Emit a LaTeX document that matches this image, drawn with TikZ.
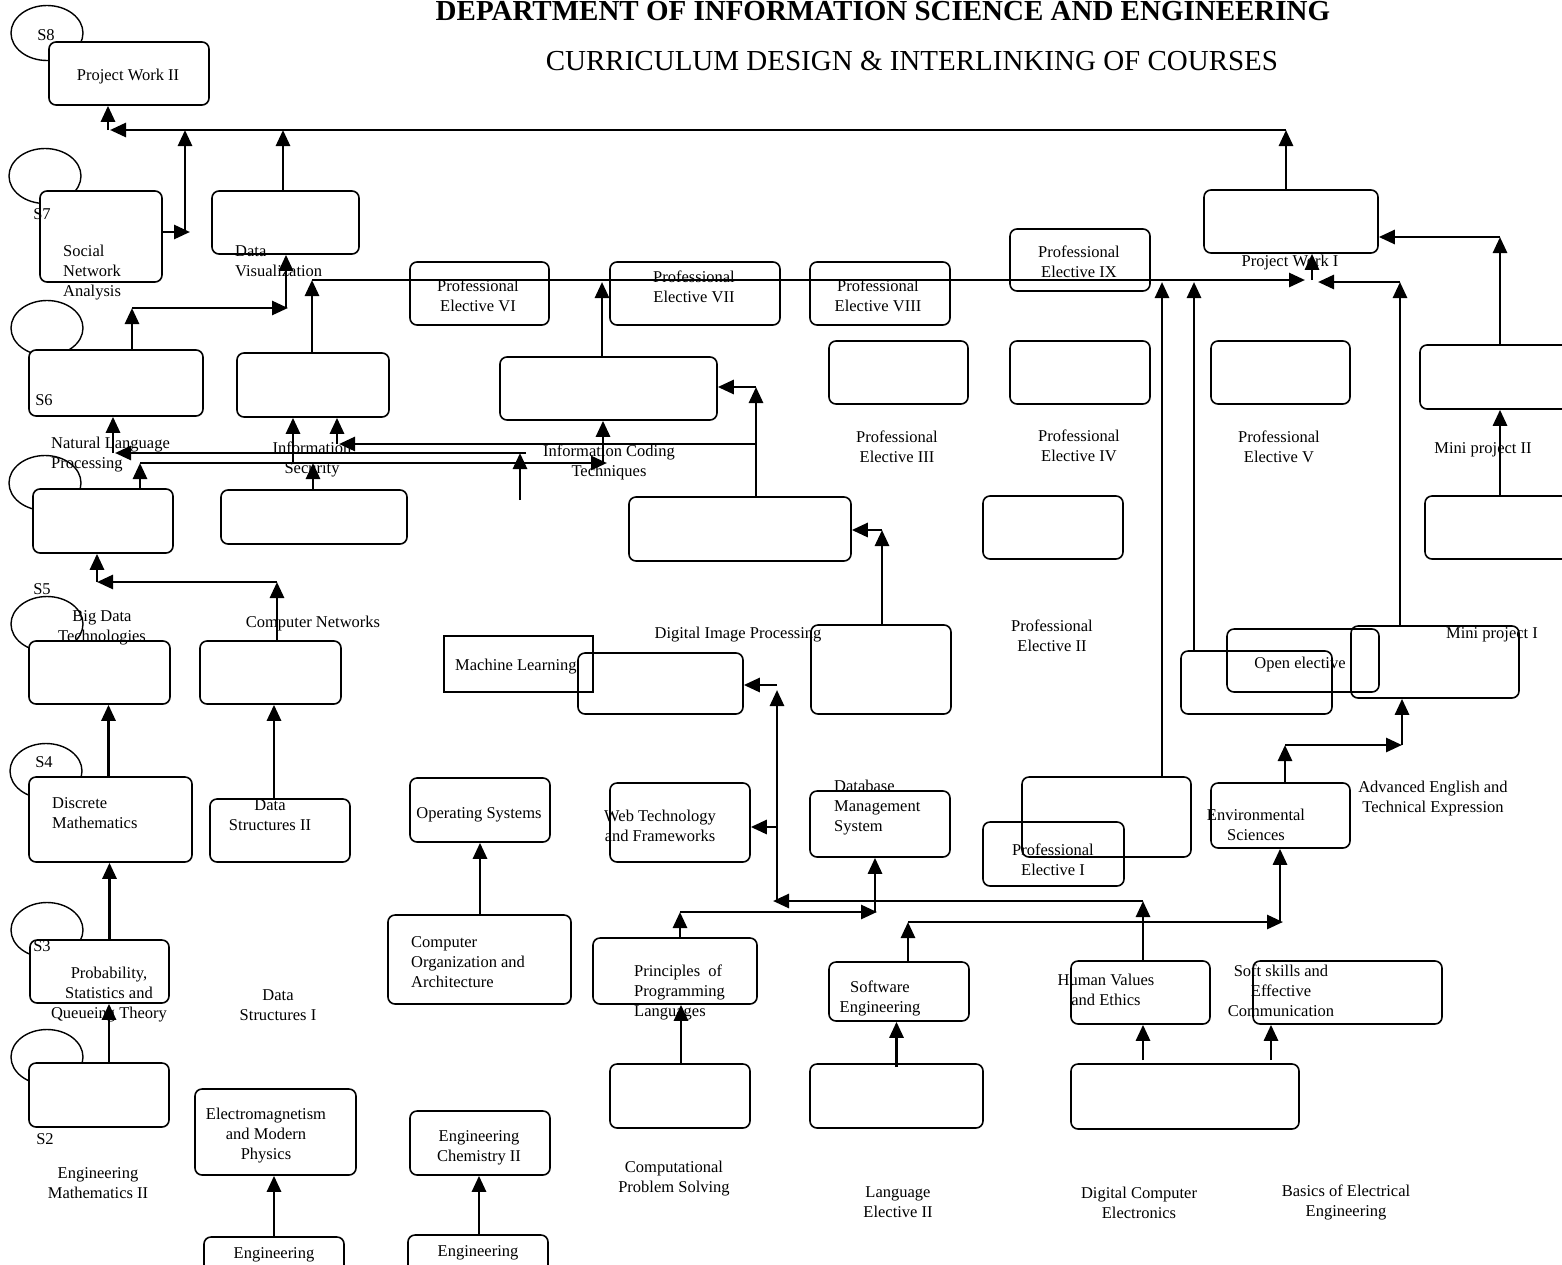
\documentclass[tikz,border=0pt]{standalone}
\usepackage{fontspec}
\setmainfont{Liberation Serif}
\usetikzlibrary{positioning, fit, shapes, arrows.meta}
\tikzstyle{course}=[rectangle, rounded corners=7pt, draw, line width=1.6pt, fill=white, inner sep=0pt]
\tikzstyle{plain}=[rectangle, draw, line width=1.8pt, inner sep=0pt]
\tikzstyle{sem}=[ellipse, draw, line width=1.4pt, inner sep=0pt, minimum width=72pt, minimum height=55pt]
\tikzstyle{txt}=[inner sep=0pt, align=center, yshift=-3pt]
\tikzstyle{ltxt}=[inner sep=0pt, align=left, anchor=west, yshift=-3pt]
\tikzstyle{link}=[line width=2.8pt, -{Triangle[length=16pt, width=14pt]}]

\begin{document}
\begin{tikzpicture}[x=1pt, y=-1pt, font=\fontsize{16.5}{20}\selectfont]
                \useasboundingbox (0,0) rectangle (1562,1264);
                \clip (0,0) rectangle (1562,1264);

                % Titres
                \node[anchor=base, font=\fontsize{29}{32}\selectfont\bfseries] (dept) at (883,20) {DEPARTMENT OF INFORMATION SCIENCE AND ENGINEERING};
                \node[anchor=base, font=\fontsize{29}{32}\selectfont] (title) at (912,70) {CURRICULUM DESIGN \& INTERLINKING OF COURSES};

                % Semestres
                \node[sem] (sem8) at (47,33) {};
                \node[sem] (sem7) at (45,176) {};
                \node[sem] (sem6) at (47,328) {};
                \node[sem] (sem5) at (45,483) {};
                \node[sem] (sem4a) at (47,624) {};
                \node[sem] (sem4) at (46,771) {};
                \node[sem] (sem3) at (47,930) {};
                \node[sem] (sem2) at (47,1057) {};

                % Cours
                \node[course, fit={(49,42) (209,105)}] (pw2) {};
                \node[course, fit={(40,191) (162,282)}] (sna) {};
                \node[course, fit={(212,191) (359,254)}] (dv) {};
                \node[course, fit={(410,262) (549,325)}] (pe6) {};
                \node[course, fit={(610,262) (780,325)}] (pe7) {};
                \node[course, fit={(810,262) (950,325)}] (pe8) {};
                \node[course, fit={(1010,229) (1150,291)}] (pe9) {};
                \node[course, fit={(1204,190) (1378,253)}] (pw1) {};
                \node[course, fit={(29,350) (203,416)}] (nlp) {};
                \node[course, fit={(237,353) (389,417)}] (is) {};
                \node[course, fit={(500,357) (717,420)}] (ict) {};
                \node[course, fit={(829,341) (968,404)}] (pe3) {};
                \node[course, fit={(1010,341) (1150,404)}] (pe4) {};
                \node[course, fit={(1211,341) (1350,404)}] (pe5) {};
                \node[course, fit={(1420,345) (1580,409)}] (mp2) {};
                \node[course, fit={(33,489) (173,553)}] (bda) {};
                \node[course, fit={(221,490) (407,544)}] (isp) {};
                \node[course, fit={(629,497) (851,561)}] (dip) {};
                \node[course, fit={(983,496) (1123,559)}] (pe2) {};
                \node[course, fit={(1425,496) (1580,559)}] (mp2p) {};
                \node[course, fit={(29,641) (170,704)}] (bd) {};
                \node[course, fit={(200,641) (341,704)}] (cn) {};
                \node[course, fit={(578,653) (743,714)}] (dipp) {};
                \node[plain, fit={(444,636) (593,692)}] (ml) {};
                \node[course, fit={(811,625) (951,714)}] (dipq) {};
                \node[course, fit={(1181,651) (1332,714)}] (opa) {};
                \node[course, fill=none, fit={(1227,629) (1379,692)}] (opb) {};
                \node[course, fill=none, fit={(1351,626) (1519,698)}] (mp1) {};
                \node[course, fit={(29,777) (192,862)}] (dm) {};
                \node[course, fit={(210,799) (350,862)}] (ds2) {};
                \node[course, fit={(410,778) (550,842)}] (os) {};
                \node[course, fit={(610,783) (750,862)}] (wt) {};
                \node[course, fit={(810,791) (950,857)}] (dbms) {};
                \node[course, fit={(1022,777) (1191,857)}] (pe1a) {};
                \node[course, fill=none, fit={(983,822) (1124,886)}] (pe1) {};
                \node[course, fit={(1211,783) (1350,848)}] (env) {};
                \node[course, fit={(30,940) (169,1003)}] (psq) {};
                \node[course, fit={(388,915) (571,1004)}] (coa) {};
                \node[course, fit={(593,938) (757,1004)}] (ppl) {};
                \node[course, fit={(829,962) (969,1021)}] (se) {};
                \node[course, fit={(1071,961) (1210,1024)}] (hve) {};
                \node[course, fit={(1253,961) (1442,1024)}] (ss) {};
                \node[course, fit={(29,1063) (169,1127)}] (em2) {};
                \node[course, fit={(195,1089) (356,1175)}] (emp) {};
                \node[course, fit={(410,1111) (550,1175)}] (ec2) {};
                \node[course, fit={(610,1064) (750,1128)}] (cps) {};
                \node[course, fit={(810,1064) (983,1128)}] (le2) {};
                \node[course, fit={(1071,1064) (1299,1129)}] (dce) {};
                \node[course, fit={(204,1237) (344,1300)}] (eng1) {};
                \node[course, fit={(408,1235) (548,1298)}] (eng2) {};

                % Textes
                \node[txt] (s8t) at (46,32) {S8};
                \node[txt] (s7t) at (42,211) {S7};
                \node[txt] (s6t) at (44,397) {S6};
                \node[txt] (s5t) at (42,586) {S5};
                \node[txt] (s4t) at (44,759) {S4};
                \node[txt] (s3t) at (42,943) {S3};
                \node[txt] (s2t) at (45,1136) {S2};
                \node[txt] (pw2t) at (128,74) {Project Work II};
                \node[ltxt] (snat) at (63,270) {Social\\Network\\Analysis};
                \node[ltxt] (dvt) at (235,258) {Data\\Visualization};
                \node[txt] (pe6t) at (478,293) {Professional\\Elective VI};
                \node[txt] (pe7t) at (694,284) {Professional\\Elective VII};
                \node[txt] (pe8t) at (878,293) {Professional\\Elective VIII};
                \node[txt] (pe9t) at (1079,259) {Professional\\Elective IX};
                \node[txt] (pw1t) at (1290,260) {Project Work I};
                \node[ltxt] (nlpt) at (51,452) {Natural Language\\Processing};
                \node[txt] (ist) at (312,456) {Information\\Security};
                \node[txt] (ictt) at (609,459) {Information Coding\\Techniques};
                \node[txt] (pe3t) at (897,444) {Professional\\Elective III};
                \node[txt] (pe4t) at (1079,443) {Professional\\Elective IV};
                \node[txt] (pe5t) at (1279,444) {Professional\\Elective V};
                \node[txt] (mp2t) at (1483,447) {Mini project II};
                \node[txt] (bdt) at (102,625) {Big Data\\Technologies};
                \node[txt] (cnt) at (313,621) {Computer Networks};
                \node[txt] (dipt) at (738,632) {Digital Image Processing};
                \node[txt] (pe2t) at (1052,633) {Professional\\Elective II};
                \node[txt] (opt) at (1300,662) {Open elective};
                \node[txt] (mp1t) at (1492,632) {Mini project I};
                \node[ltxt] (mlt) at (455,664) {Machine Learning};
                \node[ltxt] (dmt) at (52,810) {Discrete\\Mathematics};
                \node[txt] (ds2t) at (270,812) {Data\\Structures II};
                \node[txt] (ost) at (479,812) {Operating Systems};
                \node[txt] (wtt) at (660,823) {Web Technology\\and Frameworks};
                \node[ltxt] (dbmst) at (834,805) {Database\\Management\\System};
                \node[txt] (aetet) at (1433,796) {Advanced English and\\Technical Expression};
                \node[txt] (envt) at (1256,822) {Environmental\\Sciences};
                \node[txt] (pe1t) at (1053,857) {Professional\\Elective I};
                \node[txt] (psqt) at (109,992) {Probability,\\Statistics and\\Queueing Theory};
                \node[txt] (ds1t) at (278,1002) {Data\\Structures I};
                \node[ltxt] (coat) at (411,959) {Computer\\Organization and\\Architecture};
                \node[ltxt] (pplt) at (634,989) {Principles~~of\\Programming\\Languages};
                \node[txt] (set) at (880,995) {Software\\Engineering};
                \node[txt] (hvet) at (1106,987) {Human Values\\and Ethics};
                \node[txt] (sst) at (1281,988) {Soft skills and\\Effective\\Communication};
                \node[txt] (em2t) at (98,1180) {Engineering\\Mathematics II};
                \node[txt] (empt) at (266,1133) {Electromagnetism\\and Modern\\Physics};
                \node[txt] (ec2t) at (479,1145) {Engineering\\Chemistry II};
                \node[txt] (cpst) at (674,1176) {Computational\\Problem Solving};
                \node[txt] (le2t) at (898,1199) {Language\\Elective II};
                \node[txt] (dcet) at (1139,1200) {Digital Computer\\Electronics};
                \node[txt] (beet) at (1346,1199) {Basics of Electrical\\Engineering};
                \node[txt] (eng1t) at (274,1252) {Engineering};
                \node[txt] (eng2t) at (478,1250) {Engineering};

                % Liens vers S8
                \coordinate (topR) at (1286,130);
                \coordinate (topL) at (108,130);
                \draw[link] (pw1.north -| topR) -- (topR);
                \draw[link] (topR) -- ([xshift=2pt]topL);
                \draw[link] (topL) -- (topL |- pw2.south);
                \coordinate (snaR) at (190,232);
                \coordinate (snaUp) at (185,232);
                \draw[link] (sna.east |- snaR) -- (snaR);
                \draw[link] (snaUp) -- (snaUp |- topL);
                \coordinate (dvUp) at (283,130);
                \draw[link] (dv.north -| dvUp) -- (dvUp);

                % Liens vers S7
                \coordinate (nlpUp) at (132,308);
                \coordinate (dvIn) at (286,308);
                \draw[link] (nlp.north -| nlpUp) -- (nlpUp);
                \draw[link] (nlpUp) -- ([xshift=2pt]dvIn);
                \draw[link] (dvIn) -- (dvIn |- dv.south);
                \coordinate (busA) at (312,280);
                \coordinate (busB) at (1305,280);
                \draw[link] (is.north -| busA) -- (busA);
                \draw[link] (busA) -- (busB);
                \coordinate (mpUp) at (1400,282);
                \coordinate (busC) at (1318,282);
                \draw[link] (mp1.north -| mpUp) -- (mpUp);
                \draw[link] (mpUp) -- (busC);
                \coordinate (pw1In) at (1312,280);
                \draw[link] (pw1In) -- (pw1In |- pw1.south);
                \coordinate (pe1Up) at (1162,282);
                \draw[link] (pe1a.north -| pe1Up) -- (pe1Up);
                \coordinate (opUp) at (1194,282);
                \draw[link] (opa.north -| opUp) -- (opUp);
                \coordinate (ictUp) at (602,282);
                \draw[link] (ict.north -| ictUp) -- (ictUp);
                \coordinate (mp2Up) at (1500,237);
                \draw[link] (mp2.north -| mp2Up) -- (mp2Up);
                \draw[link] (mp2Up) -- (mp2Up -| pw1.east);
                \draw[link] (mp2p.north -| mp2Up) -- (mp2Up |- mp2.south);

                % Liens vers S6
                \coordinate (dipUp) at (756,387);
                \draw[link] (dip.north -| dipUp) -- (dipUp);
                \draw[link] (dipUp) -- (dipUp -| ict.east);
                \coordinate (isR) at (756,444);
                \coordinate (isL) at (337,444);
                \draw[link] (isR) -- ([xshift=2pt]isL);
                \draw[link] (isL) -- (isL |- is.south);
                \coordinate (freeA) at (520,500);
                \coordinate (nlpR) at (520,453);
                \coordinate (nlpL) at (113,453);
                \draw[link] (freeA) -- (nlpR);
                \draw[link] ([xshift=6pt]nlpR) -- ([xshift=2pt]nlpL);
                \draw[link] (nlpL) -- (nlpL |- nlp.south);
                \coordinate (bdaUp) at (140,463);
                \coordinate (ictR) at (607,463);
                \draw[link] (bda.north -| bdaUp) -- (bdaUp);
                \draw[link] (bdaUp) -- (ictR);
                \draw[link] ([xshift=-4pt]ictR) -- ([xshift=-4pt]ictR |- ict.south);
                \coordinate (ispUp) at (313,463);
                \coordinate (isIn) at (293,463);
                \draw[link] (isp.north -| ispUp) -- (ispUp);
                \draw[link] (isIn) -- (isIn |- is.south);

                % Liens vers S5
                \coordinate (cnUp) at (277,582);
                \coordinate (bdaIn) at (97,582);
                \draw[link] (cn.north -| cnUp) -- (cnUp);
                \draw[link] (cnUp) -- (bdaIn);
                \draw[link] (bdaIn) -- (bdaIn |- bda.south);
                \coordinate (dipqUp) at (882,530);
                \draw[link] (dipq.north -| dipqUp) -- (dipqUp);
                \draw[link] (dipqUp) -- (dipqUp -| dip.east);
                \coordinate (envUp) at (1285,745);
                \coordinate (mp1In) at (1402,745);
                \draw[link] (env.north -| envUp) -- (envUp);
                \draw[link] (envUp) -- (mp1In);
                \draw[link] (mp1In) -- (mp1In |- mp1.south);
                \draw[link] ([xshift=-2pt]dm.north) -- ([xshift=-2pt]dm.north |- bd.south);
                \draw[link] ([xshift=-6pt]ds2.north) -- ([xshift=-6pt]ds2.north |- cn.south);

                % Liens vers S4
                \coordinate (hveUp) at (1143,901);
                \coordinate (wtBus) at (777,901);
                \draw[link] (hve.north -| hveUp) -- (hveUp);
                \draw[link] (hveUp) -- ([xshift=-4pt]wtBus);
                \coordinate (dippIn) at (777,685);
                \draw[link] (wtBus) -- ([yshift=-5pt]dippIn);
                \draw[link] (dippIn) -- (dippIn -| dipp.east);
                \coordinate (wtIn) at (777,827);
                \draw[link] (wtIn) -- (wtIn -| wt.east);
                \coordinate (pplUp) at (680,912);
                \coordinate (dbmsIn) at (875,912);
                \draw[link] (ppl.north -| pplUp) -- (pplUp);
                \draw[link] (pplUp) -- ([xshift=2pt]dbmsIn);
                \draw[link] (dbmsIn) -- (dbmsIn |- dbms.south);
                \coordinate (seUp) at (908,922);
                \coordinate (envIn) at (1280,922);
                \draw[link] (se.north -| seUp) -- (seUp);
                \draw[link] (seUp) -- ([xshift=3pt]envIn);
                \draw[link] (envIn) -- (envIn |- env.south);
                \draw[link] ([xshift=10pt]psq.north) -- ([xshift=10pt]psq.north |- dm.south);
                \draw[link] (coa.north -| os.south) -- (os.south);

                % Liens vers S3
                \draw[link] ([xshift=10pt]em2.north) -- ([xshift=10pt]em2.north |- psq.south);
                \draw[link] ([xshift=6pt]ppl.north |- cps.north) -- ([xshift=6pt]ppl.south);
                \draw[link] ([yshift=-4pt]le2.north) -- (le2.north |- se.south);
                \coordinate (dceA) at (1143,1060);
                \coordinate (dceB) at (1271,1060);
                \draw[link] (dceA) -- (dceA |- hve.south);
                \draw[link] (dceB) -- (dceB |- ss.south);

                % Liens vers S2
                \draw[link] (eng1.north) -- (eng1.north |- emp.south);
                \draw[link] ([xshift=1pt]eng2.north) -- ([xshift=1pt]eng2.north |- ec2.south);
            \end{tikzpicture}
\end{document}
